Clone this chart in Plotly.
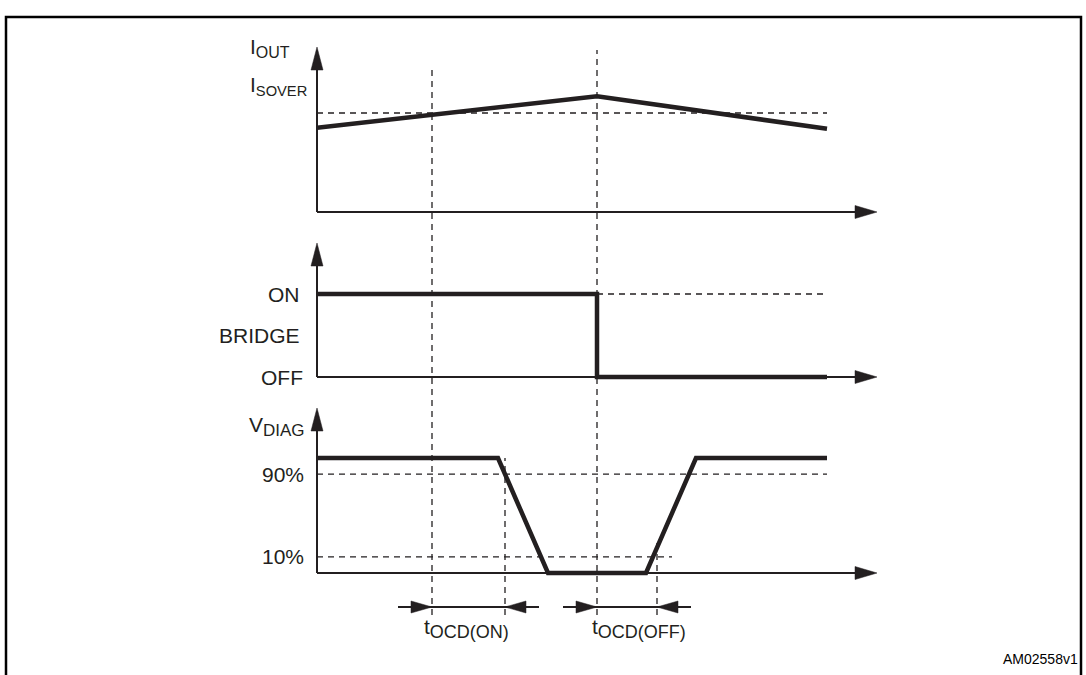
import plotly.graph_objects as go

# ---------------- data ----------------
# time axis in arbitrary units (0 = vertical axes)
t_iout = [0, 28, 51]
iout = [0.85, 1.17, 0.84]
t_sover = [0, 51]
i_sover = [1.0, 1.0]

t_bridge = [0, 28, 28, 51]
bridge = [1, 1, 0, 0]
t_on_ref = [28, 51]
on_ref = [1, 1]

t_vdiag = [0, 18.1, 23.1, 32.9, 37.9, 51]
vdiag = [1, 1, 0, 0, 1, 1]
t_v90 = [0, 51]
v90 = [0.86, 0.86]
t_v10 = [0, 35.5]
v10 = [0.14, 0.14]

# timing instants
t_ocd_on = [11.5, 18.8]
t_ocd_off = [28.0, 34.0]

# tick / label texts
lbl_iout = "I<sub><span style='font-size:16px'>OUT</span></sub>"
lbl_sover = "I<sub>SOVER</sub>"
lbl_bridge = ["ON", "BRIDGE", "OFF"]
lbl_vdiag = "V<sub><span style='font-size:17px'>DIAG</span></sub>"
lbl_pct = ["90%", "10%"]
lbl_ton = "t<sub><span style='font-size:18px'>OCD(ON)</span></sub>"
lbl_toff = "t<sub><span style='font-size:18px'>OCD(OFF)</span></sub>"
lbl_code = "AM02558v1"

# ---------------- layout constants ----------------
W, H = 1086, 675
X0_PX, X1_PX = 317, 877
T_RANGE = [0, 56]
PXU = (X1_PX - X0_PX) / (T_RANGE[1] - T_RANGE[0])
INK = "#231f20"
FONT = "Arial, Liberation Sans, sans-serif"
PAD = 4


def py(px):
    return (H - px) / H


panels = [
    dict(base=212, top=47, unit=99),
    dict(base=377, top=243, unit=83),
    dict(base=573, top=408, unit=115),
]

fig = go.Figure()
layout = dict(
    width=W, height=H, autosize=False,
    margin=dict(l=0, r=0, t=0, b=0),
    paper_bgcolor="white", plot_bgcolor="rgba(0,0,0,0)",
    showlegend=False,
    font=dict(family=FONT, size=21, color=INK),
)
shapes = []
annotations = []

for i, p in enumerate(panels):
    n = "" if i == 0 else str(i + 1)
    dom_h = p["base"] + PAD - p["top"]
    layout["xaxis" + n] = dict(domain=[X0_PX / W, X1_PX / W], range=T_RANGE,
                               visible=False, anchor="y" + n, fixedrange=True)
    layout["yaxis" + n] = dict(domain=[py(p["base"] + PAD), py(p["top"])],
                               range=[-PAD / p["unit"], (p["base"] - p["top"]) / p["unit"]],
                               visible=False, anchor="x" + n, fixedrange=True)
    y0frac = PAD / dom_h
    # vertical axis line
    shapes.append(dict(type="line", xref="x" + n + " domain", yref="y" + n + " domain",
                       x0=0, x1=0, y0=y0frac, y1=0.95, line=dict(color=INK, width=2)))
    # horizontal axis line
    shapes.append(dict(type="line", xref="x" + n + " domain", yref="y" + n + " domain",
                       x0=0, x1=0.98, y0=y0frac, y1=y0frac, line=dict(color=INK, width=2)))
    # up arrowhead
    shapes.append(dict(type="path", xref="x" + n + " domain", yref="y" + n + " domain",
                       xsizemode="pixel", ysizemode="pixel", xanchor=0, yanchor=1,
                       path="M0,0 L-6,-23 L6,-23 Z", fillcolor=INK, line=dict(color=INK, width=0.5)))
    # right arrowhead
    shapes.append(dict(type="path", xref="x" + n + " domain", yref="y" + n + " domain",
                       xsizemode="pixel", ysizemode="pixel", xanchor=1, yanchor=y0frac,
                       path="M0,0 L-22,6.5 L-22,-6.5 Z", fillcolor=INK, line=dict(color=INK, width=0.5)))

dash_style = dict(color=INK, width=1.3, dash="6px,5px")
thick = dict(color=INK, width=4.5)

# panel 1: I_OUT
fig.add_trace(go.Scatter(x=t_sover, y=i_sover, mode="lines", line=dash_style, xaxis="x", yaxis="y"))
fig.add_trace(go.Scatter(x=t_iout, y=iout, mode="lines", line=thick, xaxis="x", yaxis="y"))
# panel 2: BRIDGE
fig.add_trace(go.Scatter(x=t_on_ref, y=on_ref, mode="lines", line=dash_style, xaxis="x2", yaxis="y2"))
fig.add_trace(go.Scatter(x=t_bridge, y=bridge, mode="lines", line=thick, xaxis="x2", yaxis="y2"))
# panel 3: V_DIAG
fig.add_trace(go.Scatter(x=t_v90, y=v90, mode="lines", line=dash_style, xaxis="x3", yaxis="y3"))
fig.add_trace(go.Scatter(x=t_v10, y=v10, mode="lines", line=dash_style, xaxis="x3", yaxis="y3"))
fig.add_trace(go.Scatter(x=t_vdiag, y=vdiag, mode="lines", line=thick, xaxis="x3", yaxis="y3"))

# vertical dashed timing lines (top pixel positions per line)
DIM_Y = 607
LINE_BOTTOM = 615
tops = {t_ocd_on[0]: 68, t_ocd_on[1]: 458, t_ocd_off[0]: 50, t_ocd_off[1]: 543}
for t, top in tops.items():
    shapes.append(dict(type="line", xref="x", yref="paper", x0=t, x1=t,
                       y0=py(LINE_BOTTOM), y1=py(top), line=dash_style, layer="below"))

# dimension arrows
EXT = 34 / PXU
for (ta, tb) in (t_ocd_on, t_ocd_off):
    shapes.append(dict(type="line", xref="x", yref="paper", x0=ta - EXT, x1=tb + EXT,
                       y0=py(DIM_Y), y1=py(DIM_Y), line=dict(color=INK, width=2)))
    shapes.append(dict(type="path", xref="x", yref="paper", xsizemode="pixel", ysizemode="pixel",
                       xanchor=ta, yanchor=py(DIM_Y), path="M0,0 L-21,6 L-21,-6 Z",
                       fillcolor=INK, line=dict(color=INK, width=0.5)))
    shapes.append(dict(type="path", xref="x", yref="paper", xsizemode="pixel", ysizemode="pixel",
                       xanchor=tb, yanchor=py(DIM_Y), path="M0,0 L21,6 L21,-6 Z",
                       fillcolor=INK, line=dict(color=INK, width=0.5)))

# frame
shapes.append(dict(type="rect", xref="paper", yref="paper", x0=6 / W, x1=1081 / W,
                   y0=py(720), y1=py(17), line=dict(color="black", width=2.5)))


def lab(text, xref, yref, y, xshift, xanchor="right", size=21, x=0):
    annotations.append(dict(text=text, xref=xref, yref=yref, x=x, y=y, xanchor=xanchor,
                            yanchor="middle", xshift=xshift, showarrow=False,
                            font=dict(family=FONT, size=size, color=INK)))


lab(lbl_iout, "x domain", "paper", py(48), -69, xanchor="left")
lab(lbl_sover, "x domain", "paper", py(86), -69, xanchor="left")
lab(lbl_bridge[0], "x2 domain", "y2", on_ref[0], -15)
lab(lbl_bridge[1], "x2 domain", "y2", 0.5 * on_ref[0], -15)
lab(lbl_bridge[2], "x2 domain", "y2", 0, -12)
lab(lbl_vdiag, "x3 domain", "paper", py(426), -70, xanchor="left")
lab(lbl_pct[0], "x3 domain", "y3", v90[0], -11)
lab(lbl_pct[1], "x3 domain", "y3", v10[0], -11)
annotations.append(dict(text=lbl_ton, xref="x", yref="paper", x=t_ocd_on[0], y=py(628),
                        xanchor="left", yanchor="middle", xshift=-10, showarrow=False,
                        font=dict(family=FONT, size=21, color=INK)))
annotations.append(dict(text=lbl_toff, xref="x", yref="paper", x=t_ocd_off[0], y=py(628),
                        xanchor="left", yanchor="middle", xshift=-7, showarrow=False,
                        font=dict(family=FONT, size=21, color=INK)))
annotations.append(dict(text=lbl_code, xref="paper", yref="paper", x=1080 / W, y=py(659),
                        xanchor="right", yanchor="middle", showarrow=False,
                        font=dict(family=FONT, size=14, color="black")))

layout["shapes"] = shapes
layout["annotations"] = annotations
fig.update_layout(**layout)
fig.write_html("out.html", config={"displayModeBar": False},
               post_script="document.body.style.margin='0';document.body.style.overflow='hidden';")
